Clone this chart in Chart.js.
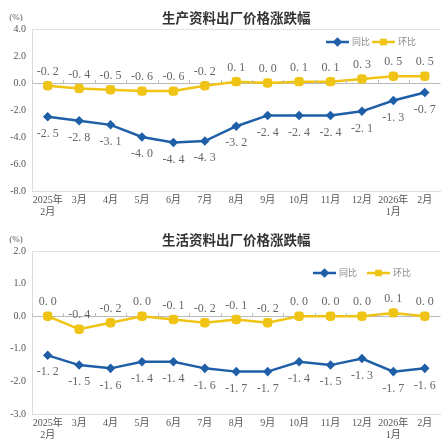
<!DOCTYPE html>
<html>
<head>
<meta charset="utf-8">
<script src="https://cdn.jsdelivr.net/npm/chart.js@4/dist/chart.umd.min.js"></script>
<style>
  html, body { margin: 0; padding: 0; background: #fff; overflow: hidden; width: 441px; height: 443px; }
  .box { position: absolute; left: 0; }
</style>
</head>
<body>
<div class="box" style="top:0"><canvas id="c1" width="447" height="222"></canvas></div>
<div class="box" style="top:222px"><canvas id="c2" width="447" height="221"></canvas></div>
<script>
const months = [['2025年', '2月'], '3月', '4月', '5月', '6月', '7月', '8月', '9月', '10月', '11月', '12月', ['2026年', '1月'], '2月'];

// 生产资料
const prodYoy = [-2.5, -2.8, -3.1, -4.0, -4.4, -4.3, -3.2, -2.4, -2.4, -2.4, -2.1, -1.3, -0.7];
const prodMom = [-0.2, -0.4, -0.5, -0.6, -0.6, -0.2, 0.1, 0.0, 0.1, 0.1, 0.3, 0.5, 0.5];

// 生活资料
const lifeYoy = [-1.2, -1.5, -1.6, -1.4, -1.4, -1.6, -1.7, -1.7, -1.4, -1.5, -1.3, -1.7, -1.6];
const lifeMom = [0.0, -0.4, -0.2, 0.0, -0.1, -0.2, -0.1, -0.2, 0.0, 0.0, 0.0, 0.1, 0.0];

const BLUE = '#1f5fa8';
const YELLOW = '#f0c414';
const SERIF = "'Liberation Serif', 'Noto Sans CJK SC', serif";
const CJK = "'Noto Sans CJK SC', sans-serif";

function fmt(v) {
  return v.toFixed(1).replace('.', '. ');
}

const decor = {
  id: 'decor',
  afterDraw(chart, args, opts) {
    const c = chart.ctx;
    const area = chart.chartArea;
    const xs = chart.scales.x;
    const ys = chart.scales.y;
    c.save();

    // title
    c.fillStyle = '#333';
    c.font = "bold 13.5px " + CJK;
    c.textAlign = 'center';
    c.textBaseline = 'middle';
    c.fillText(opts.title, (area.left + area.right) / 2, 18);

    // unit
    c.fillStyle = '#555';
    c.font = "9px " + SERIF;
    c.fillText('(%)', 16, 18);

    // small ticks on zero line
    const y0 = ys.getPixelForValue(0);
    const step = xs.getPixelForValue(1) - xs.getPixelForValue(0);
    c.strokeStyle = '#bbb';
    c.lineWidth = 1;
    for (let i = 0; i <= months.length; i++) {
      const x = Math.round(xs.getPixelForValue(0) - step / 2 + i * step) + 0.5;
      c.beginPath();
      c.moveTo(x, y0);
      c.lineTo(x, y0 - 3);
      c.stroke();
    }

    // data labels
    c.font = "12px " + SERIF;
    c.fillStyle = '#666';
    chart.data.datasets.forEach((ds, di) => {
      const meta = chart.getDatasetMeta(di);
      meta.data.forEach((pt, i) => {
        const dy = di === 0 ? 17 : -14;
        c.fillText(fmt(ds.data[i]), pt.x, pt.y + dy);
      });
    });

    // legend
    const ly = opts.legendY;
    const items = [
      { x: opts.legendX[0], color: BLUE, style: 'rectRot', r: 3, text: '同比' },
      { x: opts.legendX[1], color: YELLOW, style: 'rect', r: 3, text: '环比' }
    ];
    c.font = "9px " + CJK;
    c.textAlign = 'left';
    items.forEach(it => {
      c.strokeStyle = it.color;
      c.lineWidth = 2.5;
      c.beginPath();
      c.moveTo(it.x, ly);
      c.lineTo(it.x + 23, ly);
      c.stroke();
      c.fillStyle = it.color;
      Chart.helpers.drawPoint(c, { pointStyle: it.style, radius: it.r, borderWidth: 1 }, it.x + 11.5, ly);
      c.fillStyle = '#888';
      c.fillText(it.text, it.x + 26, ly);
    });

    c.restore();
  }
};

function makeChart(id, title, yoy, mom, yMin, yMax, yStep, xHeight, legendX, legendY) {
  const ctx = document.getElementById(id).getContext('2d');
  return new Chart(ctx, {
    type: 'line',
    data: {
      labels: months,
      datasets: [
        {
          label: '同比',
          data: yoy,
          borderColor: BLUE,
          backgroundColor: BLUE,
          borderWidth: 2.5,
          pointStyle: 'rectRot',
          pointRadius: 3,
          tension: 0
        },
        {
          label: '环比',
          data: mom,
          borderColor: YELLOW,
          backgroundColor: YELLOW,
          borderWidth: 2.5,
          pointStyle: 'rectRounded',
          pointRadius: 4,
          tension: 0
        }
      ]
    },
    options: {
      responsive: false,
      animation: false,
      layout: { padding: { top: 29, right: 2, bottom: 1, left: 0 } },
      plugins: {
        legend: { display: false },
        title: { display: false },
        tooltip: { enabled: false },
        decor: { title, legendX, legendY }
      },
      scales: {
        x: {
          offset: true,
          grid: { display: false, drawTicks: false },
          border: { color: '#ddd' },
          ticks: {
            color: '#555',
            padding: 3,
            maxRotation: 0,
            autoSkip: false,
            font: { family: SERIF, size: 10, lineHeight: 1.25 }
          },
          afterFit(scale) { scale.height = xHeight; }
        },
        y: {
          min: yMin,
          max: yMax,
          ticks: {
            stepSize: yStep,
            color: '#555',
            padding: 6,
            font: { family: SERIF, size: 10 },
            callback: v => v.toFixed(1)
          },
          border: { color: '#ddd' },
          grid: {
            drawTicks: false,
            color: c => c.tick.value === 0 ? '#bbb' : (c.tick.value === yMax ? '#e2e2e2' : 'rgba(0,0,0,0)')
          },
          afterFit(scale) { scale.width = 32; }
        }
      }
    },
    plugins: [decor]
  });
}

makeChart('c1', '生产资料出厂价格涨跌幅', prodYoy, prodMom, -8, 4, 2, 30, [326, 372], 42);
makeChart('c2', '生活资料出厂价格涨跌幅', lifeYoy, lifeMom, -3, 2, 1, 28, [313, 367], 51);
</script>
</body>
</html>
